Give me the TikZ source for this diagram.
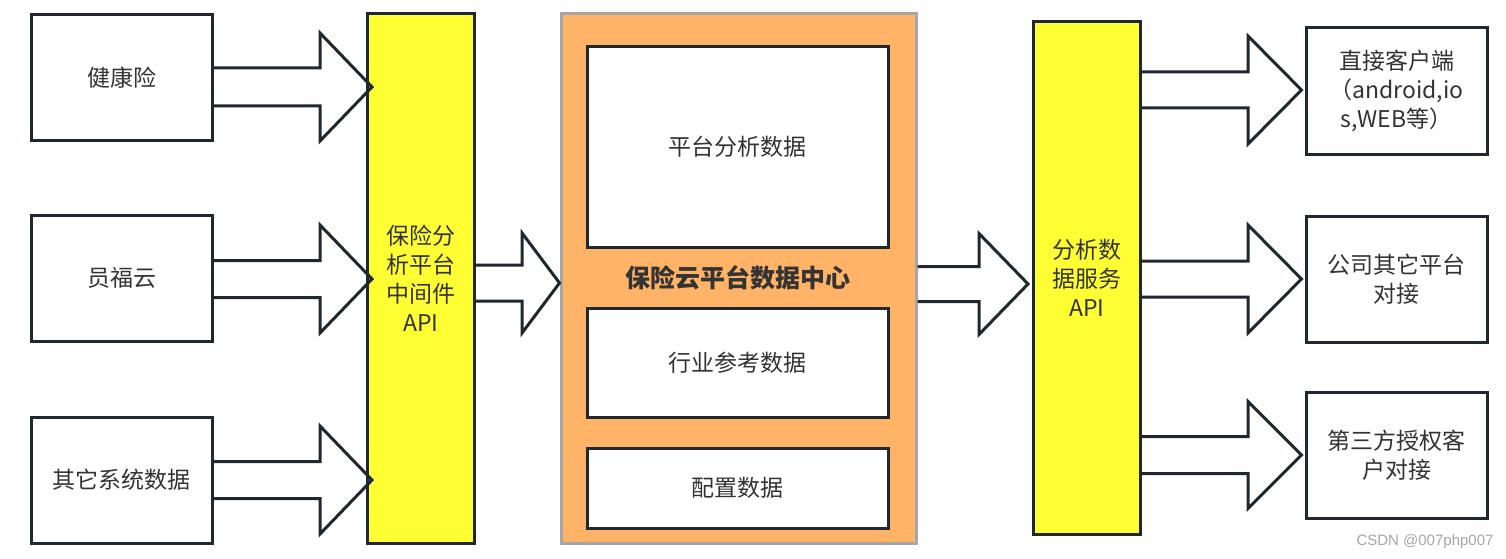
\documentclass[tikz,border=0pt]{standalone}
\usepackage{fontspec}
\setmainfont{Noto Sans CJK SC}
\newfontfamily\wmfont{Liberation Sans}
\definecolor{edge}{HTML}{1F282F}
\definecolor{barY}{HTML}{FFFF33}
\definecolor{orng}{HTML}{FFB366}
\definecolor{orngB}{HTML}{A6A6A6}
\definecolor{txt}{HTML}{333333}
\tikzset{
  box/.style={draw=edge, line width=3pt, fill=white, inner sep=0pt, align=center,
    text=txt, font=\fontsize{23}{29}\selectfont},
  srcbox/.style={box, minimum width=181pt, minimum height=126pt},
  outbox/.style={box, minimum width=181pt, minimum height=126pt},
  apibar/.style={box, fill=barY, minimum width=107pt},
  databox/.style={box, minimum width=301pt},
  center/.style={draw=orngB, line width=3pt, fill=orng, inner sep=0pt,
    minimum width=355pt, minimum height=529pt},
  blk/.style={draw=edge, line width=3pt, line join=miter},
}
% from, to, y centre, half shaft, half head, head base x, tip offset
\newcommand\blockarrow[7]{%
  \draw[blk] (#1.east |- 0,#3-#4) -- (#6,#3-#4) -- (#6,#3-#5)
    -- ([xshift=#7pt]#2.west |- 0,#3) -- (#6,#3+#5) -- (#6,#3+#4)
    -- (#1.east |- 0,#3+#4);}
\begin{document}
\begin{tikzpicture}[x=1pt,y=-1pt]
\useasboundingbox (0,0) rectangle (1506,559);
% sources
\node[srcbox] (in1) at (121.5,77.5) {健康险};
\node[srcbox] (in2) at (121.5,278) {员福云};
\node[srcbox] (in3) at (121.5,480) {其它系统数据};
% middleware
\node[apibar, minimum height=529pt] (api1) at (421,278.5) {保险分\\析平台\\中间件\\API};
% data centre
\node[center] (dc) at (738.5,278.5) {};
\node[databox, minimum height=200pt] (d1) at (737.5,147) {平台分析数据};
\node[text=txt, font=\fontsize{25}{29}\selectfont\bfseries] (title) at (737.5,278) {保险云平台数据中心};
\node[databox, minimum height=109pt] (d2) at (737.5,362.5) {行业参考数据};
\node[databox, minimum height=80pt] (d3) at (737.5,488) {配置数据};
% service api
\node[apibar, minimum height=512pt] (api2) at (1087,278) {分析数\\据服务\\API};
% outputs
\node[outbox] (o1) at (1396.5,91) {直接客户端\\（android,io\\s,WEB等）};
\node[outbox] (o2) at (1396.5,279) {公司其它平台\\对接};
\node[outbox] (o3) at (1396.5,455) {第三方授权客\\户对接};
% block arrows
\blockarrow{in1}{api1}{87}{19}{54}{320}{6}
\blockarrow{in2}{api1}{279}{18.5}{54}{320}{6}
\blockarrow{in3}{api1}{480}{18.5}{54}{320}{6}
\blockarrow{api1}{dc}{283}{18}{50}{522}{0}
\blockarrow{dc}{api2}{284}{17.5}{50.5}{979}{-4}
\blockarrow{api2}{o1}{90}{18}{54}{1248}{-3}
\blockarrow{api2}{o2}{279}{18}{54}{1248}{-3}
\blockarrow{api2}{o3}{455}{18.5}{53.5}{1248}{-3}
% watermark
\node[text=black!35, font=\wmfont\fontsize{15}{16}\selectfont] (wm) at (1425,542) {CSDN @007php007};
\end{tikzpicture}
\end{document}
